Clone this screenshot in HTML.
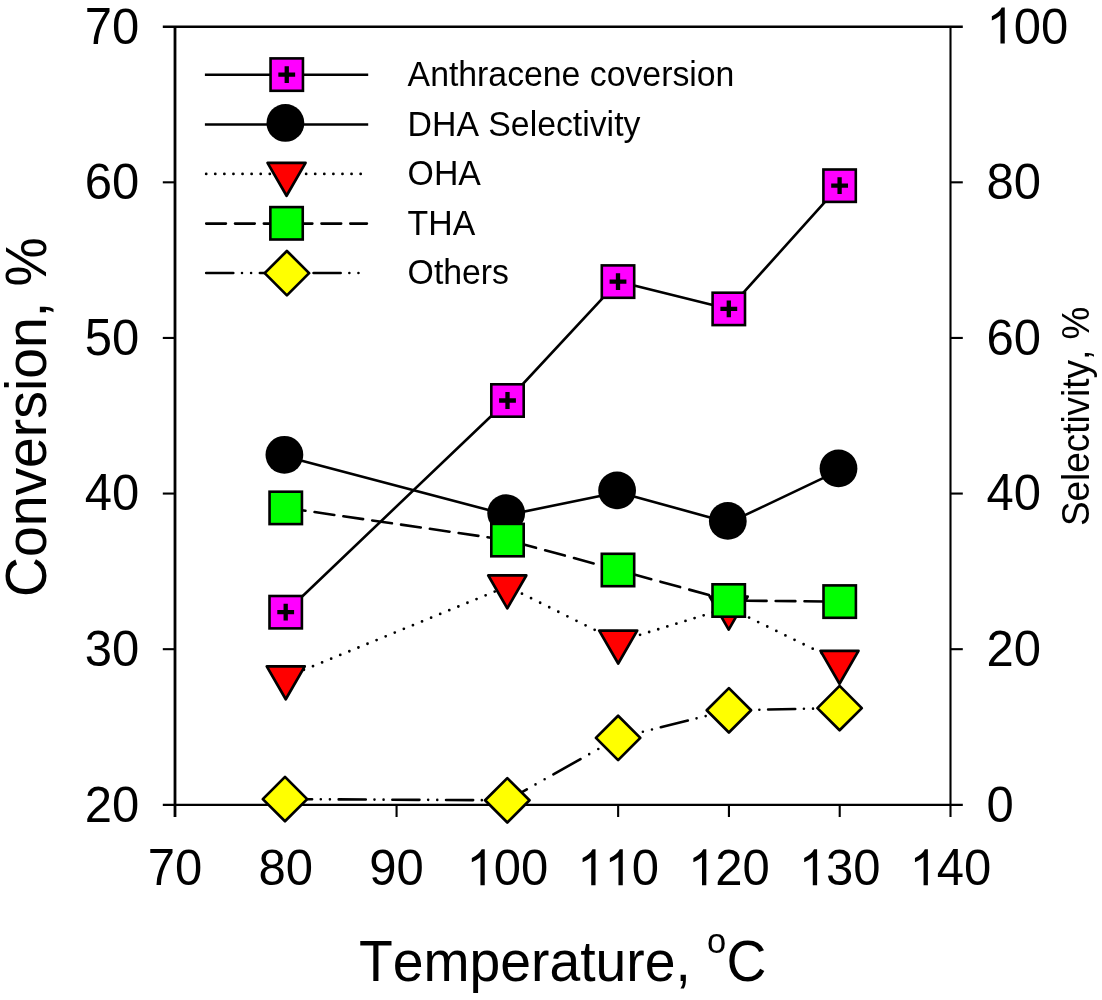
<!DOCTYPE html><html><head><meta charset="utf-8"><style>html,body{margin:0;padding:0;background:#fff;}svg{display:block;will-change:transform;}text{font-family:"Liberation Sans",sans-serif;fill:#000;font-kerning:none;}</style></head><body>
<svg width="1102" height="1000" viewBox="0 0 1102 1000">
<rect x="0" y="0" width="1102" height="1000" fill="#fff"/>
<g stroke="#000" stroke-width="2.5" fill="none" stroke-linecap="butt">
<line x1="175.0" y1="26.7" x2="175.0" y2="817" stroke-width="2.8"/>
<line x1="950.5" y1="26.7" x2="950.5" y2="817" stroke-width="2.1"/>
<line x1="162.8" y1="26.7" x2="962.8" y2="26.7"/>
<line x1="162.8" y1="804.8" x2="962.8" y2="804.8" stroke-width="2.3"/>
<line x1="162.8" y1="182.32" x2="175.0" y2="182.32" stroke-width="2.1"/>
<line x1="950.5" y1="182.32" x2="962.8" y2="182.32" stroke-width="2.1"/>
<line x1="162.8" y1="337.94" x2="175.0" y2="337.94" stroke-width="2.1"/>
<line x1="950.5" y1="337.94" x2="962.8" y2="337.94" stroke-width="2.1"/>
<line x1="162.8" y1="493.56" x2="175.0" y2="493.56" stroke-width="2.1"/>
<line x1="950.5" y1="493.56" x2="962.8" y2="493.56" stroke-width="2.1"/>
<line x1="162.8" y1="649.18" x2="175.0" y2="649.18" stroke-width="2.1"/>
<line x1="950.5" y1="649.18" x2="962.8" y2="649.18" stroke-width="2.1"/>
<line x1="285.79" y1="804.8" x2="285.79" y2="817" stroke-width="2.1"/>
<line x1="396.57" y1="804.8" x2="396.57" y2="817" stroke-width="2.1"/>
<line x1="507.36" y1="804.8" x2="507.36" y2="817" stroke-width="2.1"/>
<line x1="618.14" y1="804.8" x2="618.14" y2="817" stroke-width="2.1"/>
<line x1="728.93" y1="804.8" x2="728.93" y2="817" stroke-width="2.1"/>
<line x1="839.71" y1="804.8" x2="839.71" y2="817" stroke-width="2.1"/>
</g>
<g transform="translate(84.80,43.50)"><text transform="translate(0.00,0) scale(1,1.045)" font-size="49.0">7</text><text transform="translate(27.25,0) scale(1,1.026)" font-size="49.0">0</text></g>
<g transform="translate(84.80,199.12)"><text transform="translate(0.00,0) scale(1,1.026)" font-size="49.0">6</text><text transform="translate(27.25,0) scale(1,1.026)" font-size="49.0">0</text></g>
<g transform="translate(84.80,354.74)"><text transform="translate(0.00,0) scale(1,1.045)" font-size="49.0">5</text><text transform="translate(27.25,0) scale(1,1.026)" font-size="49.0">0</text></g>
<g transform="translate(84.80,510.36)"><text transform="translate(0.00,0) scale(1,1.045)" font-size="49.0">4</text><text transform="translate(27.25,0) scale(1,1.026)" font-size="49.0">0</text></g>
<g transform="translate(84.80,665.98)"><text transform="translate(0.00,0) scale(1,1.026)" font-size="49.0">3</text><text transform="translate(27.25,0) scale(1,1.026)" font-size="49.0">0</text></g>
<g transform="translate(84.80,821.60)"><text transform="translate(0.00,0) scale(1,1.026)" font-size="49.0">2</text><text transform="translate(27.25,0) scale(1,1.026)" font-size="49.0">0</text></g>
<g transform="translate(986.50,43.50)"><path d="M763 0L583 0L583 1147Q518 1085 412 1023Q306 961 223 930L223 1104Q369 1173 479 1271Q589 1369 635 1466L763 1466Z" fill="#000" transform="translate(0.00,0) scale(0.02393,-0.02460)"/><text transform="translate(27.25,0) scale(1,1.026)" font-size="49.0">0</text><text transform="translate(54.50,0) scale(1,1.026)" font-size="49.0">0</text></g>
<g transform="translate(986.50,199.12)"><text transform="translate(0.00,0) scale(1,1.026)" font-size="49.0">8</text><text transform="translate(27.25,0) scale(1,1.026)" font-size="49.0">0</text></g>
<g transform="translate(986.50,354.74)"><text transform="translate(0.00,0) scale(1,1.026)" font-size="49.0">6</text><text transform="translate(27.25,0) scale(1,1.026)" font-size="49.0">0</text></g>
<g transform="translate(986.50,510.36)"><text transform="translate(0.00,0) scale(1,1.045)" font-size="49.0">4</text><text transform="translate(27.25,0) scale(1,1.026)" font-size="49.0">0</text></g>
<g transform="translate(986.50,665.98)"><text transform="translate(0.00,0) scale(1,1.026)" font-size="49.0">2</text><text transform="translate(27.25,0) scale(1,1.026)" font-size="49.0">0</text></g>
<g transform="translate(986.50,821.60)"><text transform="translate(0.00,0) scale(1,1.026)" font-size="49.0">0</text></g>
<g transform="translate(147.75,885.20)"><text transform="translate(0.00,0) scale(1,1.045)" font-size="49.0">7</text><text transform="translate(27.25,0) scale(1,1.026)" font-size="49.0">0</text></g>
<g transform="translate(258.53,885.20)"><text transform="translate(0.00,0) scale(1,1.026)" font-size="49.0">8</text><text transform="translate(27.25,0) scale(1,1.026)" font-size="49.0">0</text></g>
<g transform="translate(369.32,885.20)"><text transform="translate(0.00,0) scale(1,1.026)" font-size="49.0">9</text><text transform="translate(27.25,0) scale(1,1.026)" font-size="49.0">0</text></g>
<g transform="translate(466.48,885.20)"><path d="M763 0L583 0L583 1147Q518 1085 412 1023Q306 961 223 930L223 1104Q369 1173 479 1271Q589 1369 635 1466L763 1466Z" fill="#000" transform="translate(0.00,0) scale(0.02393,-0.02460)"/><text transform="translate(27.25,0) scale(1,1.026)" font-size="49.0">0</text><text transform="translate(54.50,0) scale(1,1.026)" font-size="49.0">0</text></g>
<g transform="translate(577.27,885.20)"><path d="M763 0L583 0L583 1147Q518 1085 412 1023Q306 961 223 930L223 1104Q369 1173 479 1271Q589 1369 635 1466L763 1466Z" fill="#000" transform="translate(0.00,0) scale(0.02393,-0.02460)"/><path d="M763 0L583 0L583 1147Q518 1085 412 1023Q306 961 223 930L223 1104Q369 1173 479 1271Q589 1369 635 1466L763 1466Z" fill="#000" transform="translate(27.25,0) scale(0.02393,-0.02460)"/><text transform="translate(54.50,0) scale(1,1.026)" font-size="49.0">0</text></g>
<g transform="translate(688.05,885.20)"><path d="M763 0L583 0L583 1147Q518 1085 412 1023Q306 961 223 930L223 1104Q369 1173 479 1271Q589 1369 635 1466L763 1466Z" fill="#000" transform="translate(0.00,0) scale(0.02393,-0.02460)"/><text transform="translate(27.25,0) scale(1,1.026)" font-size="49.0">2</text><text transform="translate(54.50,0) scale(1,1.026)" font-size="49.0">0</text></g>
<g transform="translate(798.84,885.20)"><path d="M763 0L583 0L583 1147Q518 1085 412 1023Q306 961 223 930L223 1104Q369 1173 479 1271Q589 1369 635 1466L763 1466Z" fill="#000" transform="translate(0.00,0) scale(0.02393,-0.02460)"/><text transform="translate(27.25,0) scale(1,1.026)" font-size="49.0">3</text><text transform="translate(54.50,0) scale(1,1.026)" font-size="49.0">0</text></g>
<g transform="translate(909.62,885.20)"><path d="M763 0L583 0L583 1147Q518 1085 412 1023Q306 961 223 930L223 1104Q369 1173 479 1271Q589 1369 635 1466L763 1466Z" fill="#000" transform="translate(0.00,0) scale(0.02393,-0.02460)"/><text transform="translate(27.25,0) scale(1,1.045)" font-size="49.0">4</text><text transform="translate(54.50,0) scale(1,1.026)" font-size="49.0">0</text></g>
<text transform="translate(46.1,597) rotate(-90) scale(1,1.04)" font-size="55.3" text-anchor="start">Conversion, %</text>
<text transform="translate(1088.6,526.1) rotate(-90) scale(1,1.04)" font-size="36.9" text-anchor="start">Selectivity, %</text>
<text transform="translate(359,980.8) scale(1,1.04)" font-size="55.3" text-anchor="start">Temperature, </text>
<text transform="translate(707,953.2) scale(1,1.04)" font-size="34.5" text-anchor="start">o</text>
<text transform="translate(726.5,980.8) scale(1,1.04)" font-size="55.3" text-anchor="start">C</text>
<text transform="translate(407.6,86.40) scale(1,1.03)" font-size="33.8" text-anchor="start">Anthracene coversion</text>
<text transform="translate(407.6,135.85) scale(1,1.03)" font-size="33.8" text-anchor="start">DHA Selectivity</text>
<text transform="translate(407.6,185.30) scale(1,1.03)" font-size="33.8" text-anchor="start">OHA</text>
<text transform="translate(407.6,234.75) scale(1,1.03)" font-size="33.8" text-anchor="start">THA</text>
<text transform="translate(407.6,284.20) scale(1,1.03)" font-size="33.8" text-anchor="start">Others</text>
<path d="M285.70 612.20 L507.50 400.50 L618.00 281.60 L728.80 308.90 L839.60 185.70" fill="none" stroke="#000" stroke-width="2.6" stroke-linejoin="round"/>
<rect x="269.50" y="596.00" width="32.40" height="32.40" fill="#f0f" stroke="#000" stroke-width="2.6"/><path d="M277.30 612.20H294.10M285.70 603.80V620.60" stroke="#000" stroke-width="4.3" fill="none"/>
<rect x="491.30" y="384.30" width="32.40" height="32.40" fill="#f0f" stroke="#000" stroke-width="2.6"/><path d="M499.10 400.50H515.90M507.50 392.10V408.90" stroke="#000" stroke-width="4.3" fill="none"/>
<rect x="601.80" y="265.40" width="32.40" height="32.40" fill="#f0f" stroke="#000" stroke-width="2.6"/><path d="M609.60 281.60H626.40M618.00 273.20V290.00" stroke="#000" stroke-width="4.3" fill="none"/>
<rect x="712.60" y="292.70" width="32.40" height="32.40" fill="#f0f" stroke="#000" stroke-width="2.6"/><path d="M720.40 308.90H737.20M728.80 300.50V317.30" stroke="#000" stroke-width="4.3" fill="none"/>
<rect x="823.40" y="169.50" width="32.40" height="32.40" fill="#f0f" stroke="#000" stroke-width="2.6"/><path d="M831.20 185.70H848.00M839.60 177.30V194.10" stroke="#000" stroke-width="4.3" fill="none"/>
<path d="M285.70 456.60 L507.50 515.00 L618.40 492.20 L729.10 522.70 L839.80 470.20" fill="none" stroke="#000" stroke-width="2.6" stroke-linejoin="round"/>
<circle cx="284.40" cy="454.80" r="18.9" fill="#000"/>
<circle cx="506.20" cy="513.20" r="18.9" fill="#000"/>
<circle cx="617.10" cy="490.40" r="18.9" fill="#000"/>
<circle cx="727.80" cy="520.90" r="18.9" fill="#000"/>
<circle cx="838.50" cy="468.40" r="18.9" fill="#000"/>
<path d="M285.75 677.32L507.30 586.42" fill="none" stroke="#000" stroke-width="2.8" stroke-dasharray="0.000 9.820" stroke-linecap="round" stroke-dashoffset="0.000"/><path d="M507.30 586.42L618.20 641.52" fill="none" stroke="#000" stroke-width="2.8" stroke-dasharray="0.000 10.145" stroke-linecap="round" stroke-dashoffset="247.389"/><path d="M618.20 641.52L728.70 607.62" fill="none" stroke="#000" stroke-width="2.8" stroke-dasharray="0.000 9.503" stroke-linecap="round" stroke-dashoffset="347.743"/><path d="M728.70 607.62L839.50 661.82" fill="none" stroke="#000" stroke-width="2.8" stroke-dasharray="0.000 10.114" stroke-linecap="round" stroke-dashoffset="493.106"/>
<path d="M266.75 666.35H304.75L285.75 699.26Z" fill="#f00" stroke="#000" stroke-width="2.7" stroke-linejoin="round"/>
<path d="M488.30 575.45H526.30L507.30 608.36Z" fill="#f00" stroke="#000" stroke-width="2.7" stroke-linejoin="round"/>
<path d="M599.20 630.55H637.20L618.20 663.46Z" fill="#f00" stroke="#000" stroke-width="2.7" stroke-linejoin="round"/>
<path d="M709.70 596.65H747.70L728.70 629.56Z" fill="#f00" stroke="#000" stroke-width="2.7" stroke-linejoin="round"/>
<path d="M820.50 650.85H858.50L839.50 683.76Z" fill="#f00" stroke="#000" stroke-width="2.7" stroke-linejoin="round"/>
<path d="M285.75 507.90L507.50 540.10" fill="none" stroke="#000" stroke-width="2.6" stroke-dasharray="19.907 9.216" stroke-linecap="round" stroke-dashoffset="0.000"/><path d="M507.50 540.10L618.00 570.00" fill="none" stroke="#000" stroke-width="2.6" stroke-dasharray="20.408 9.448" stroke-linecap="round" stroke-dashoffset="229.725"/><path d="M618.00 570.00L728.70 600.50" fill="none" stroke="#000" stroke-width="2.6" stroke-dasharray="20.434 9.460" stroke-linecap="round" stroke-dashoffset="344.630"/><path d="M728.70 600.50L839.70 601.60" fill="none" stroke="#000" stroke-width="2.6" stroke-dasharray="19.701 9.120" stroke-linecap="round" stroke-dashoffset="442.972"/>
<rect x="269.55" y="491.70" width="32.40" height="32.40" fill="#0f0" stroke="#000" stroke-width="2.6"/>
<rect x="491.30" y="523.90" width="32.40" height="32.40" fill="#0f0" stroke="#000" stroke-width="2.6"/>
<rect x="601.80" y="553.80" width="32.40" height="32.40" fill="#0f0" stroke="#000" stroke-width="2.6"/>
<rect x="712.50" y="584.30" width="32.40" height="32.40" fill="#0f0" stroke="#000" stroke-width="2.6"/>
<rect x="823.50" y="585.40" width="32.40" height="32.40" fill="#0f0" stroke="#000" stroke-width="2.6"/>
<path d="M285.00 799.10L507.30 800.30" fill="none" stroke="#000" stroke-width="2.6" stroke-dasharray="27.100 8.700 0.000 9.100 0.000 8.780" stroke-linecap="round" stroke-dashoffset="0.000"/><path d="M507.30 800.30L618.10 737.90" fill="none" stroke="#000" stroke-width="2.6" stroke-dasharray="31.102 9.985 0.000 10.444 0.000 10.077" stroke-linecap="round" stroke-dashoffset="255.129"/><path d="M618.10 737.90L728.90 710.30" fill="none" stroke="#000" stroke-width="2.6" stroke-dasharray="27.928 8.966 0.000 9.378 0.000 9.048" stroke-linecap="round" stroke-dashoffset="343.279"/><path d="M728.90 710.30L839.60 708.10" fill="none" stroke="#000" stroke-width="2.6" stroke-dasharray="27.105 8.702 0.000 9.102 0.000 8.782" stroke-linecap="round" stroke-dashoffset="443.988"/>
<path d="M285.00 776.90L307.20 799.10L285.00 821.30L262.80 799.10Z" fill="#ff0" stroke="#000" stroke-width="2.7" stroke-linejoin="round"/>
<path d="M507.30 778.10L529.50 800.30L507.30 822.50L485.10 800.30Z" fill="#ff0" stroke="#000" stroke-width="2.7" stroke-linejoin="round"/>
<path d="M618.10 715.70L640.30 737.90L618.10 760.10L595.90 737.90Z" fill="#ff0" stroke="#000" stroke-width="2.7" stroke-linejoin="round"/>
<path d="M728.90 688.10L751.10 710.30L728.90 732.50L706.70 710.30Z" fill="#ff0" stroke="#000" stroke-width="2.7" stroke-linejoin="round"/>
<path d="M839.60 685.90L861.80 708.10L839.60 730.30L817.40 708.10Z" fill="#ff0" stroke="#000" stroke-width="2.7" stroke-linejoin="round"/>
<path d="M204.90 74.80 L368.20 74.80" fill="none" stroke="#000" stroke-width="2.6" stroke-linejoin="round"/>
<rect x="270.55" y="58.40" width="32.40" height="32.40" fill="#f0f" stroke="#000" stroke-width="2.6"/><path d="M278.35 74.60H295.15M286.75 66.20V83.00" stroke="#000" stroke-width="4.3" fill="none"/>
<path d="M204.90 124.50 L368.20 124.50" fill="none" stroke="#000" stroke-width="2.6" stroke-linejoin="round"/>
<circle cx="285.40" cy="122.95" r="18.9" fill="#000"/>
<path d="M206.20 173.90 L366.90 173.90" fill="none" stroke="#000" stroke-width="2.8" stroke-linejoin="round" stroke-dasharray="0 9.085" stroke-linecap="round"/>
<path d="M267.55 162.85H305.55L286.55 195.76Z" fill="#f00" stroke="#000" stroke-width="2.7" stroke-linejoin="round"/>
<path d="M206.20 223.60 L366.90 223.60" fill="none" stroke="#000" stroke-width="2.6" stroke-linejoin="round" stroke-dasharray="19.7 9.12" stroke-linecap="round"/>
<rect x="270.35" y="207.10" width="32.40" height="32.40" fill="#0f0" stroke="#000" stroke-width="2.6"/>
<path d="M206.20 273.00 L364.20 273.00" fill="none" stroke="#000" stroke-width="2.6" stroke-linejoin="round" stroke-dasharray="27.1 8.7 0 9.1 0 8.78" stroke-linecap="round"/>
<path d="M286.90 250.95L309.10 273.15L286.90 295.35L264.70 273.15Z" fill="#ff0" stroke="#000" stroke-width="2.7" stroke-linejoin="round"/>
</svg></body></html>
